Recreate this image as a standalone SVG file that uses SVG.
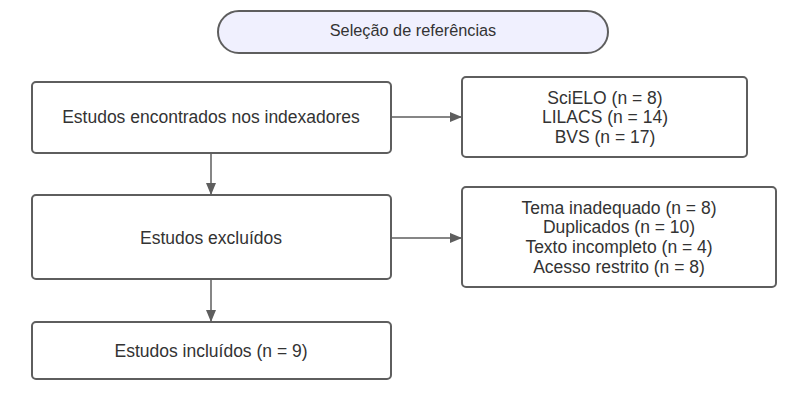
<svg xmlns="http://www.w3.org/2000/svg" width="804" height="406" viewBox="0 0 804 406">
<defs>
<marker id="arr" viewBox="0 0 12 10" refX="12" refY="5" markerWidth="12" markerHeight="10" markerUnits="userSpaceOnUse" orient="auto">
<path d="M0,0 L12,5 L0,10 Z" fill="#5e5e5e"/>
</marker>
<style>
.box{fill:#ffffff;stroke:#5e5e5e;stroke-width:2}
.pill{fill:#f0f0fe;stroke:#5e5e5e;stroke-width:2}
.t{font-family:"Liberation Sans",Arial,sans-serif;font-size:17.5px;fill:#333333;text-anchor:middle}
.tt{font-size:16.3px}
.c{fill:none;stroke:#5e5e5e;stroke-width:1.5}
</style>
</defs>
<rect width="804" height="406" fill="#ffffff"/>
<g id="title">
<rect class="pill" x="218" y="11" width="390" height="42" rx="21"/>
<text class="t tt" x="413" y="36">Seleção de referências</text>
</g>
<g id="encontrados">
<rect class="box" x="32" y="82" width="359" height="71" rx="4"/>
<text class="t" x="211" y="123">Estudos encontrados nos indexadores</text>
</g>
<g id="bases">
<rect class="box" x="462" y="77" width="285" height="80" rx="4"/>
<text class="t" x="605" y="103.5">SciELO (n = 8)</text>
<text class="t" x="605" y="123">LILACS (n = 14)</text>
<text class="t" x="605" y="142.5">BVS (n = 17)</text>
</g>
<g id="excluidos">
<rect class="box" x="32" y="195" width="359" height="84" rx="4"/>
<text class="t" x="211" y="243.5">Estudos excluídos</text>
</g>
<g id="motivos">
<rect class="box" x="462" y="187" width="314" height="100" rx="4"/>
<text class="t" x="619" y="213.5">Tema inadequado (n = 8)</text>
<text class="t" x="619" y="233">Duplicados (n = 10)</text>
<text class="t" x="619" y="253">Texto incompleto (n = 4)</text>
<text class="t" x="619" y="273">Acesso restrito (n = 8)</text>
</g>
<g id="incluidos">
<rect class="box" x="32" y="322" width="359" height="57" rx="4"/>
<text class="t" x="211" y="357">Estudos incluídos (n = 9)</text>
</g>
<g id="connectors">
<line class="c" x1="391" y1="117" x2="462" y2="117" marker-end="url(#arr)"/>
<line class="c" x1="211" y1="153" x2="211" y2="195" marker-end="url(#arr)"/>
<line class="c" x1="391" y1="238" x2="462" y2="238" marker-end="url(#arr)"/>
<line class="c" x1="211" y1="279" x2="211" y2="322" marker-end="url(#arr)"/>
</g>
</svg>
